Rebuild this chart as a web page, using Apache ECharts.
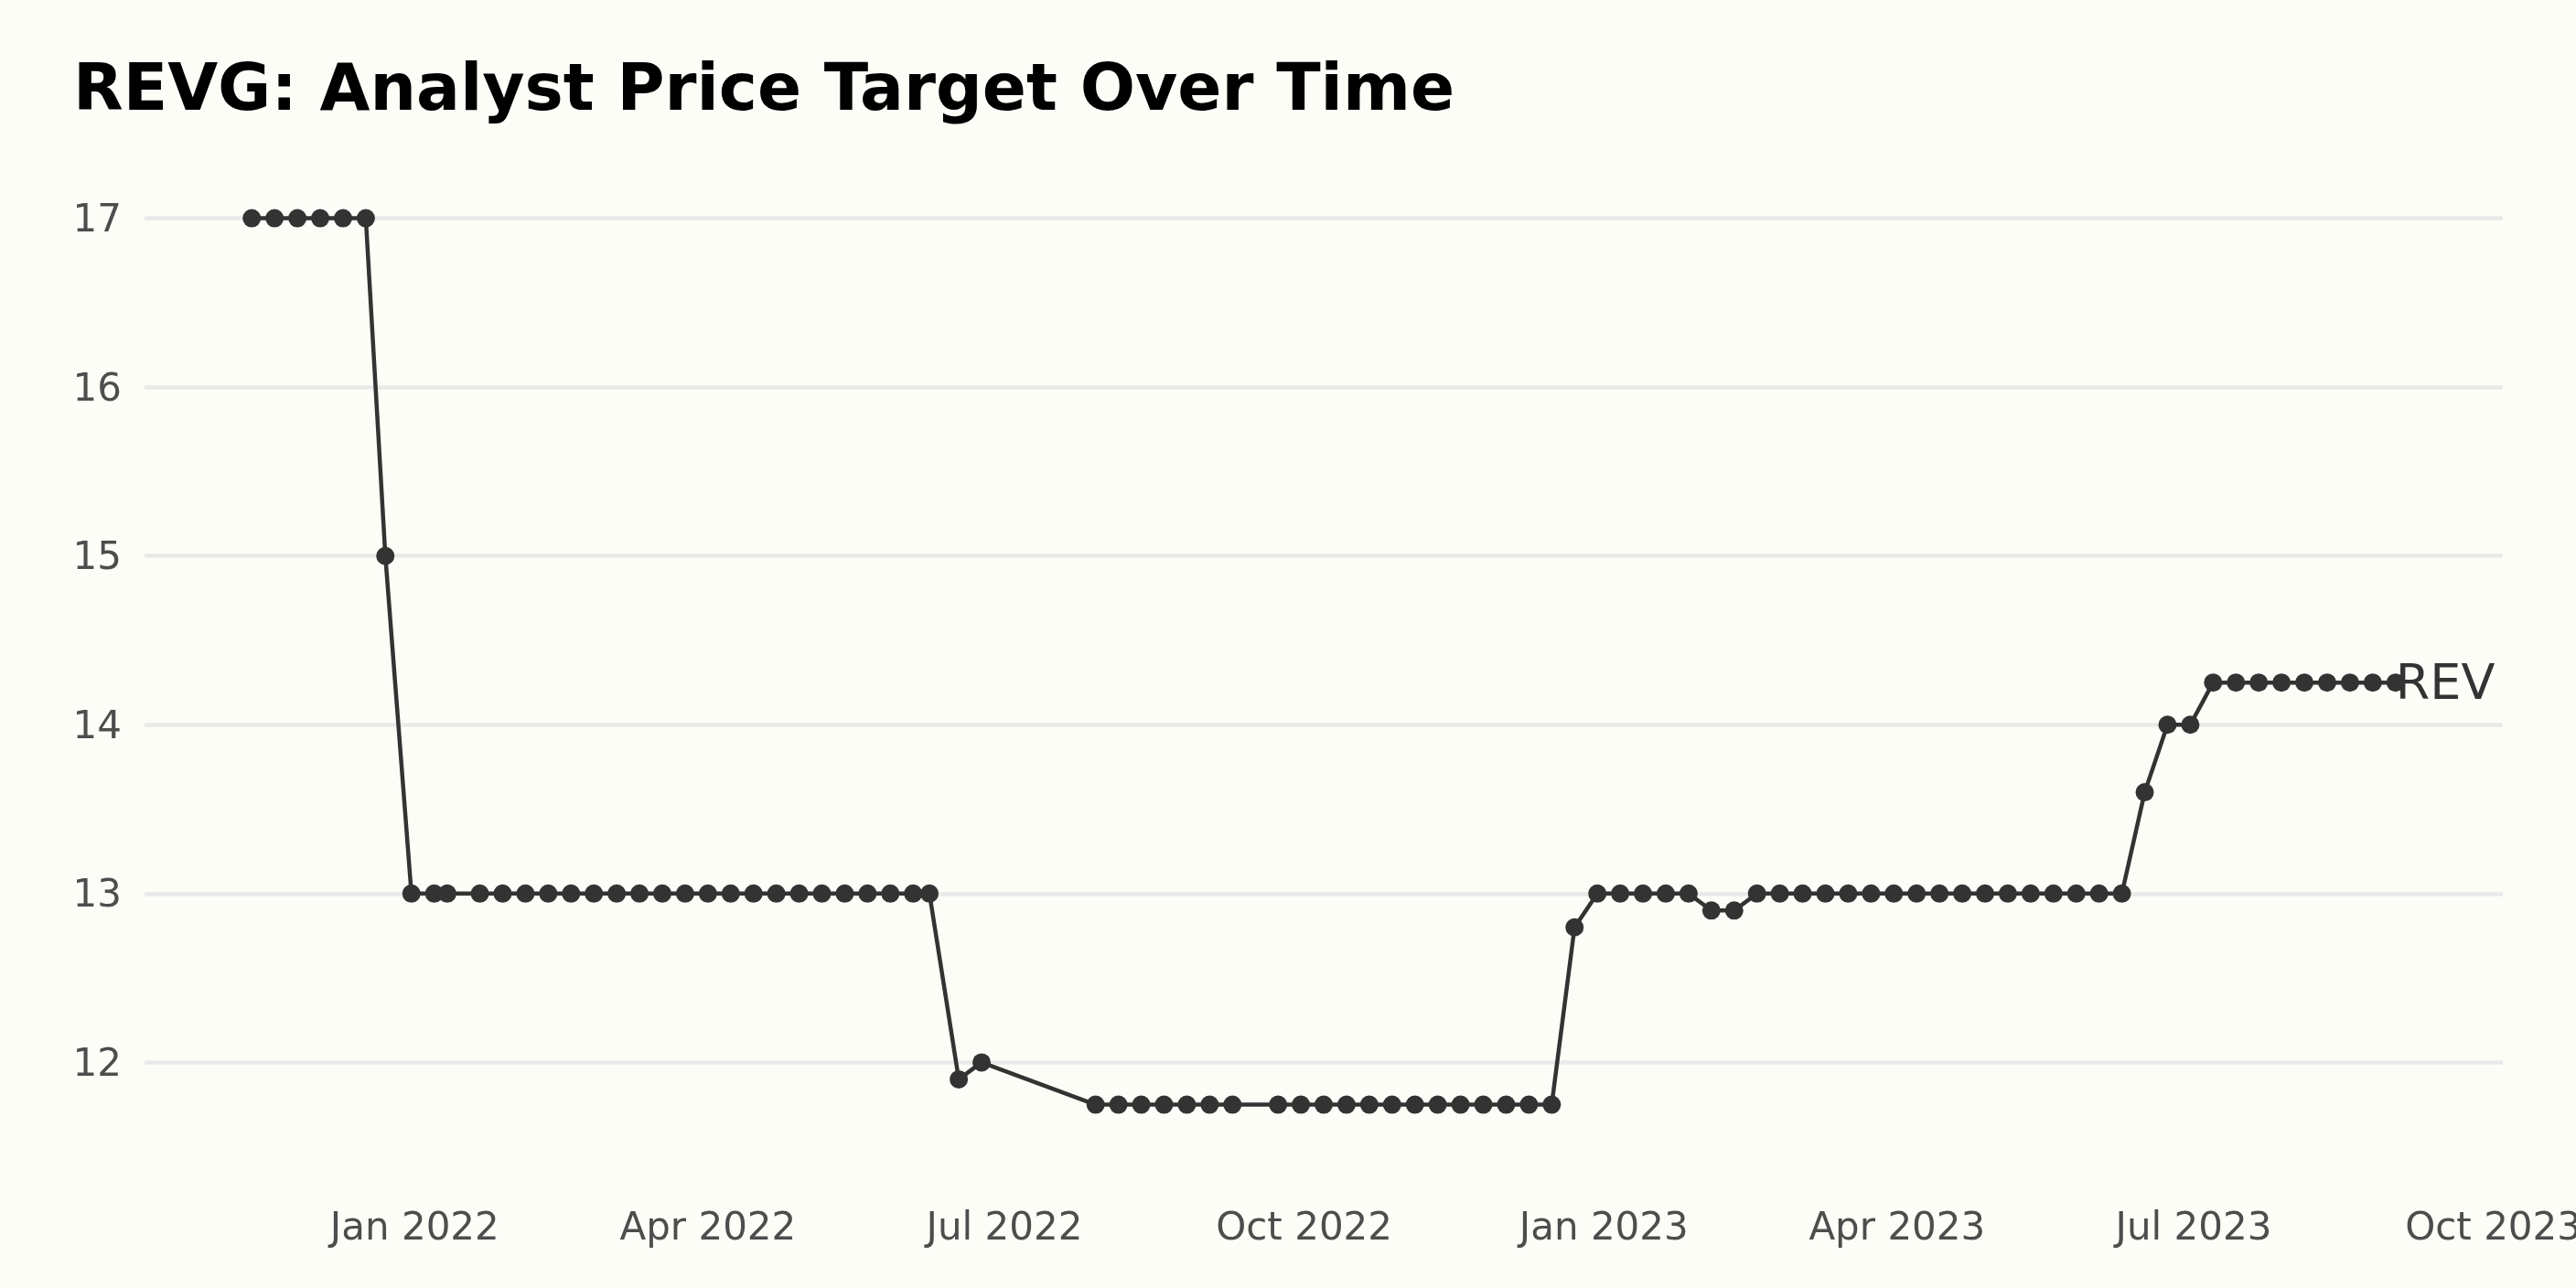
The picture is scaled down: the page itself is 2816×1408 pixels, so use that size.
<!DOCTYPE html>
<html><head><meta charset="utf-8">
<script src="https://cdn.jsdelivr.net/npm/echarts@6/dist/echarts.min.js"></script>
<style>html,body{margin:0;padding:0;background:#fdfdf8;} #c{width:2816px;height:1408px;}</style>
</head><body><div id="c"></div>
<script>
const titleText = 'REVG: Analyst Price Target Over Time';
const seriesName = 'REVG';

const dates = [
  '2021-11-12','2021-11-19','2021-11-26','2021-12-03','2021-12-10','2021-12-17',
  '2021-12-23',
  '2021-12-31','2022-01-07','2022-01-11','2022-01-21','2022-01-28','2022-02-04',
  '2022-02-11','2022-02-18','2022-02-25','2022-03-04','2022-03-11','2022-03-18',
  '2022-03-25','2022-04-01','2022-04-08','2022-04-15','2022-04-22','2022-04-29',
  '2022-05-06','2022-05-13','2022-05-20','2022-05-27','2022-06-03','2022-06-08',
  '2022-06-17','2022-06-24',
  '2022-07-29','2022-08-05','2022-08-12','2022-08-19','2022-08-26','2022-09-02',
  '2022-09-09','2022-09-23','2022-09-30','2022-10-07','2022-10-14','2022-10-21',
  '2022-10-28','2022-11-04','2022-11-11','2022-11-18','2022-11-25','2022-12-02',
  '2022-12-09','2022-12-16',
  '2022-12-23',
  '2022-12-30','2023-01-06','2023-01-13','2023-01-20','2023-01-27',
  '2023-02-03','2023-02-10',
  '2023-02-17','2023-02-24','2023-03-03','2023-03-10','2023-03-17','2023-03-24',
  '2023-03-31','2023-04-07','2023-04-14','2023-04-21','2023-04-28','2023-05-05',
  '2023-05-12','2023-05-19','2023-05-26','2023-06-02','2023-06-09',
  '2023-06-16','2023-06-23','2023-06-30',
  '2023-07-07','2023-07-14','2023-07-21','2023-07-28','2023-08-04','2023-08-11',
  '2023-08-18','2023-08-25','2023-09-01'
];
const targets = [
  17,17,17,17,17,17,
  15,
  13,13,13,13,13,13,
  13,13,13,13,13,13,
  13,13,13,13,13,13,
  13,13,13,13,13,13,
  11.9,12,
  11.75,11.75,11.75,11.75,11.75,11.75,
  11.75,11.75,11.75,11.75,11.75,11.75,
  11.75,11.75,11.75,11.75,11.75,11.75,
  11.75,11.75,
  12.8,
  13,13,13,13,13,
  12.9,12.9,
  13,13,13,13,13,13,
  13,13,13,13,13,13,
  13,13,13,13,13,
  13.6,14,14,
  14.25,14.25,14.25,14.25,14.25,14.25,
  14.25,14.25,14.25
];

const xMin = '2021-10-10 02:00:00';
const xMax = '2023-10-03 22:00:00';
const monthNames = ['Jan','Feb','Mar','Apr','May','Jun','Jul','Aug','Sep','Oct','Nov','Dec'];
const yMin = 11, yMax = 18, yInterval = 1;
const yHiddenTicks = [11, 18];

const FONT = 'DejaVu Sans';
const chart = echarts.init(document.getElementById('c'), null, {renderer: 'canvas'});
chart.setOption({
  backgroundColor: '#fdfdf8',
  animation: false,
  title: {
    text: titleText,
    left: 75, top: 61,
    textStyle: {fontFamily: FONT, fontSize: 71, fontWeight: 'bold', color: '#000000'}
  },
  grid: {left: 158, right: 80, top: 54, bottom: 62, containLabel: false, outerBoundsMode: 'none'},
  xAxis: {
    type: 'time',
    min: xMin, max: xMax,
    splitNumber: 8,
    axisLine: {show: false},
    axisTick: {show: false},
    splitLine: {show: false},
    axisLabel: {
      fontFamily: FONT, fontSize: 42, color: '#4d4d4d', margin: -23,
      formatter: function (v) {
        const d = new Date(v);
        return monthNames[d.getMonth()] + ' ' + d.getFullYear();
      }
    }
  },
  yAxis: {
    type: 'value',
    min: yMin, max: yMax, interval: yInterval,
    axisLine: {show: false},
    axisTick: {show: false},
    splitLine: {show: true, showMinLine: false, showMaxLine: false,
      lineStyle: {color: '#e9e9e9', width: 4.5}},
    axisLabel: {
      fontFamily: FONT, fontSize: 42, color: '#4d4d4d', margin: 25,
      verticalAlign: 'top', lineHeight: 7,
      formatter: function (v) { return yHiddenTicks.indexOf(v) >= 0 ? '' : String(v); }
    }
  },
  series: [{
    name: seriesName,
    type: 'line',
    data: dates.map(function (d, i) { return [d, targets[i]]; }),
    symbol: 'circle',
    symbolSize: 20,
    clip: false,
    itemStyle: {color: '#333333'},
    lineStyle: {color: '#333333', width: 4.5},
    endLabel: {
      show: true,
      formatter: seriesName,
      fontFamily: FONT, fontSize: 54, color: '#333333',
      distance: 0,
      offset: [0, 4],
      width: 118, overflow: 'truncate', ellipsis: ''
    }
  }]
});
</script>
</body></html>
